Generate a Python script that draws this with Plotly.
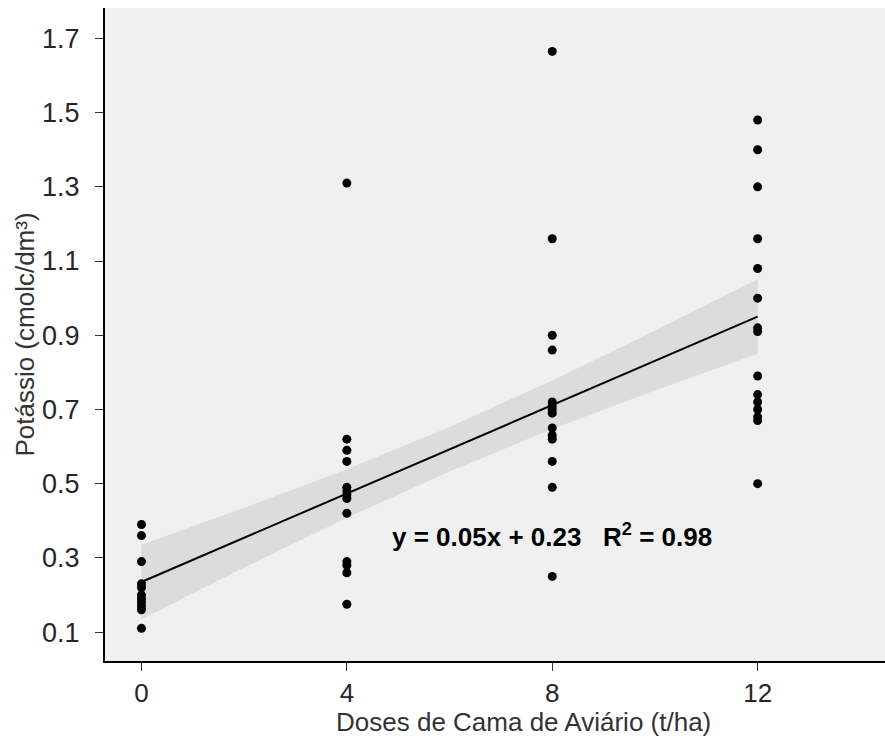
import plotly.graph_objects as go

# --- data ---
dose_0 = [0.39, 0.36, 0.29, 0.23, 0.22, 0.20, 0.19, 0.18, 0.17, 0.16, 0.11]
dose_4 = [1.31, 0.62, 0.59, 0.56, 0.49, 0.48, 0.47, 0.46, 0.42, 0.29, 0.28, 0.26, 0.175]
dose_8 = [1.665, 1.16, 0.90, 0.86, 0.72, 0.71, 0.70, 0.69, 0.65, 0.63, 0.62, 0.56, 0.49, 0.25]
dose_12 = [1.48, 1.40, 1.30, 1.16, 1.08, 1.00, 0.92, 0.91, 0.79, 0.74, 0.72, 0.70, 0.68, 0.67, 0.50]
doses = [0, 4, 8, 12]

fit_x = [0, 2, 4, 6, 8, 10, 12]
fit_y = [0.235, 0.354, 0.473, 0.593, 0.712, 0.831, 0.950]
band_lo = [0.135, 0.274, 0.408, 0.533, 0.647, 0.751, 0.850]
band_hi = [0.335, 0.435, 0.539, 0.653, 0.778, 0.912, 1.050]

y_ticks = [0.1, 0.3, 0.5, 0.7, 0.9, 1.1, 1.3, 1.5, 1.7]
x_ticks = [0, 4, 8, 12]
equation = "y = 0.05x + 0.23   R<sup>2</sup> = 0.98"
x_title = "Doses de Cama de Aviário (t/ha)"
y_title = "Potássio (cmolc/dm³)"

xs, ys = [], []
for d, vals in zip(doses, [dose_0, dose_4, dose_8, dose_12]):
    xs += [d] * len(vals)
    ys += vals

FONT = "Liberation Sans, Arial"

fig = go.Figure()
fig.add_trace(go.Scatter(x=fit_x + fit_x[::-1], y=band_hi + band_lo[::-1],
                         fill="toself", fillcolor="#dcdcdc", line=dict(width=0),
                         mode="lines", hoverinfo="skip", showlegend=False))
fig.add_trace(go.Scatter(x=fit_x, y=fit_y, mode="lines",
                         line=dict(color="black", width=2), showlegend=False))
fig.add_trace(go.Scatter(x=xs, y=ys, mode="markers",
                         marker=dict(color="black", size=9), showlegend=False))

fig.add_annotation(x=8.0, y=0.36, text=equation, showarrow=False,
                   font=dict(family=FONT, size=26, color="black", weight="bold"))

# x-axis title (the reference panel is cropped on the right, so its title sits right of centre)
fig.add_annotation(xref="paper", yref="paper", x=0.536, y=-0.094, text=x_title,
                   showarrow=False, xanchor="center", yanchor="middle",
                   font=dict(family=FONT, size=26, color="#333"))

fig.update_layout(
    width=885, height=744,
    margin=dict(l=105, r=0, t=8, b=83),
    paper_bgcolor="white", plot_bgcolor="#f0f0f0",
    font=dict(family=FONT, size=24, color="#262626"),
    xaxis=dict(range=[-0.71, 14.48], tickvals=x_ticks, ticktext=[str(t) for t in x_ticks],
               showgrid=False, zeroline=False, showline=True, linecolor="black", linewidth=2,
               ticks="outside", ticklen=8, tickcolor="#333", tickwidth=1,
               tickfont=dict(family=FONT, size=26, color="#262626")),
    yaxis=dict(range=[0.022, 1.782], tickvals=y_ticks, ticktext=[f"{t:.1f}" for t in y_ticks],
               showgrid=False, zeroline=False, showline=True, linecolor="black", linewidth=2,
               ticks="outside", ticklen=8, tickcolor="#333", tickwidth=1,
               ticklabelstandoff=10,
               tickfont=dict(family=FONT, size=27, color="#262626"),
               title=dict(text=y_title,
                          font=dict(family=FONT, size=26, color="#333"), standoff=0)),
)
fig.write_html("out.html")
